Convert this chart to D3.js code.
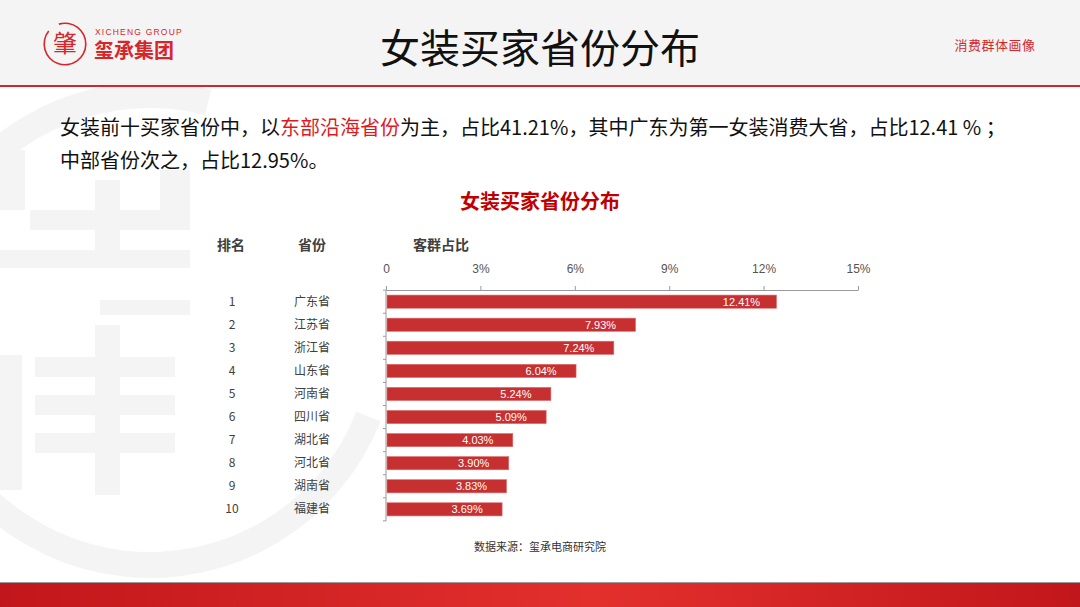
<!DOCTYPE html>
<html><head><meta charset="utf-8">
<script src="https://cdn.jsdelivr.net/npm/d3@7"></script>
<style>
html,body{margin:0;padding:0;background:#fff;}
svg{display:block;}
</style></head>
<body>
<svg id="c" width="1080" height="607"></svg>
<script>
const ranks = ["1","2","3","4","5","6","7","8","9","10"];
const provinces = ["广东省","江苏省","浙江省","山东省","河南省","四川省","湖北省","河北省","湖南省","福建省"];
const shares = [12.41, 7.93, 7.24, 6.04, 5.24, 5.09, 4.03, 3.90, 3.83, 3.69];
const tickValues = [0, 3, 6, 9, 12, 15];
const tickLabels = ["0", "3%", "6%", "9%", "12%", "15%"];

const svg = d3.select("#c");
const CJK = "'Noto Sans CJK SC','Noto Sans',sans-serif";
const LAT = "'Liberation Sans',Arial,sans-serif";

// defs
const defs = svg.append("defs");
const g1 = defs.append("linearGradient").attr("id","foot").attr("x1","0").attr("x2","1");
g1.append("stop").attr("offset","0").attr("stop-color","#c1161b");
g1.append("stop").attr("offset","0.55").attr("stop-color","#e3302d");
g1.append("stop").attr("offset","1").attr("stop-color","#c1161b");

// watermark (faint)
const wm = svg.append("g").attr("fill","#f4f4f4").attr("stroke","none");
const arcGen = d3.arc();
wm.append("path").attr("transform","translate(150,330)")
  .attr("d", arcGen({innerRadius:222, outerRadius:248, startAngle:-1.05*Math.PI/2-0.6, endAngle:0.25}));
wm.append("path").attr("transform","translate(150,330)")
  .attr("d", arcGen({innerRadius:222, outerRadius:248, startAngle:Math.PI*0.62, endAngle:Math.PI*1.45}));
[[0,355,22,135],[35,357,140,20],[35,395,140,20],[35,433,140,20],[95,325,25,170],
 [30,210,160,20],[0,250,190,18],[95,180,25,80],[160,170,30,40],[0,150,25,60],[100,300,90,15]]
 .forEach(r=>wm.append("rect").attr("x",r[0]).attr("y",r[1]).attr("width",r[2]).attr("height",r[3]));

// header
svg.append("rect").attr("x",0).attr("y",0).attr("width",1080).attr("height",85).attr("fill","#f4f4f4");
svg.append("rect").attr("x",0).attr("y",85).attr("width",1080).attr("height",2).attr("fill","#d7262b");

// logo
const logo = svg.append("g");
logo.append("path").attr("transform","translate(65,44)")
  .attr("d", arcGen({innerRadius:20, outerRadius:21.6, startAngle:-0.3, endAngle:2*Math.PI-0.9}))
  .attr("fill","#d7262b");
logo.append("text").attr("x",65).attr("y",52).attr("text-anchor","middle")
  .attr("font-family",CJK).attr("font-size",24).attr("fill","#d7262b").text("肇");
logo.append("text").attr("x",95).attr("y",35).attr("font-family",LAT).attr("font-size",8.5)
  .attr("letter-spacing",1.2).attr("fill","#d7262b").text("XICHENG GROUP");
logo.append("text").attr("x",94).attr("y",58).attr("font-family",CJK).attr("font-size",20).attr("font-weight",700)
  .attr("fill","#d7262b").text("玺承集团");

// title
svg.append("text").attr("x",540).attr("y",63).attr("text-anchor","middle")
  .attr("font-family",CJK).attr("font-size",40).attr("fill","#111").text("女装买家省份分布");
svg.append("text").attr("x",995).attr("y",50).attr("text-anchor","middle")
  .attr("font-family",CJK).attr("font-size",13).attr("fill","#d7262b").attr("letter-spacing",0.5).text("消费群体画像");

// paragraph
const p1 = svg.append("text").attr("x",60).attr("y",135).attr("font-family",CJK).attr("font-size",20).attr("fill","#111");
p1.append("tspan").text("女装前十买家省份中，以");
p1.append("tspan").attr("fill","#e0191e").text("东部沿海省份");
p1.append("tspan").text("为主，占比41.21%，其中广东为第一女装消费大省，占比12.41 % ；");
svg.append("text").attr("x",60).attr("y",168).attr("font-family",CJK).attr("font-size",20).attr("fill","#111")
  .text("中部省份次之，占比12.95%。");

// chart title
svg.append("text").attr("x",540).attr("y",209).attr("text-anchor","middle")
  .attr("font-family",CJK).attr("font-size",20).attr("font-weight",700).attr("fill","#c00000").text("女装买家省份分布");

// column headers
const hdr = [["排名",231],["省份",312],["客群占比",441]];
hdr.forEach(h=>svg.append("text").attr("x",h[1]).attr("y",250).attr("text-anchor","middle")
  .attr("font-family",CJK).attr("font-size",14).attr("font-weight",700).attr("fill","#404040").text(h[0]));

// scales
const x = d3.scaleLinear().domain([0,15]).range([386,858]);
const y = d3.scaleBand().domain(ranks).range([290,521]).paddingInner(0.43).paddingOuter(0.22);

// top axis
const xAxis = d3.axisTop(x).tickValues(tickValues).tickSize(4).tickSizeOuter(0)
  .tickFormat((d,i)=>tickLabels[i]);
const gx = svg.append("g").attr("transform","translate(0,290)").call(xAxis);
gx.select(".domain").attr("stroke","#9a9a9a");
gx.selectAll(".tick line").attr("stroke","#9a9a9a");
gx.selectAll(".tick text").attr("y",-17).attr("font-family",LAT).attr("font-size",12).attr("fill","#555");

// left axis line with band ticks
svg.append("line").attr("x1",386).attr("x2",386).attr("y1",290).attr("y2",521).attr("stroke","#9a9a9a");
const bounds = ranks.map(r=>y(r)-y.step()*y.paddingInner()/2).concat([y("10")+y.bandwidth()+y.step()*y.paddingInner()/2]);
svg.selectAll(".lt").data(bounds).enter().append("line")
  .attr("x1",383).attr("x2",386).attr("y1",d=>d).attr("y2",d=>d).attr("stroke","#9a9a9a");

// bars
svg.selectAll(".bar").data(shares).enter().append("rect")
  .attr("x",x(0)+1).attr("y",(d,i)=>y(ranks[i]))
  .attr("width",d=>x(d)-x(0)-1).attr("height",y.bandwidth())
  .attr("fill","#c63031").attr("stroke","#e06a6a").attr("stroke-width",0.6);

// value labels
svg.selectAll(".vl").data(shares).enter().append("text")
  .attr("x",d=>x(d)-35).attr("y",(d,i)=>y(ranks[i])+y.bandwidth()/2+4)
  .attr("text-anchor","middle").attr("font-family",LAT).attr("font-size",11).attr("fill","#fff")
  .text(d=>d.toFixed(2)+"%");

// rank and province labels
svg.selectAll(".rk").data(ranks).enter().append("text")
  .attr("x",232).attr("y",d=>y(d)+y.bandwidth()/2+4).attr("text-anchor","middle")
  .attr("font-family",CJK).attr("font-size",12).attr("fill","#404040").text(d=>d);
svg.selectAll(".pv").data(provinces).enter().append("text")
  .attr("x",312).attr("y",(d,i)=>y(ranks[i])+y.bandwidth()/2+4).attr("text-anchor","middle")
  .attr("font-family",CJK).attr("font-size",12).attr("fill","#404040").text(d=>d);

// source
svg.append("text").attr("x",540).attr("y",551).attr("text-anchor","middle")
  .attr("font-family",CJK).attr("font-size",11).attr("fill","#333").text("数据来源：玺承电商研究院");

// footer
svg.append("rect").attr("x",0).attr("y",582).attr("width",1080).attr("height",1).attr("fill","#9a9a9a");
svg.append("rect").attr("x",0).attr("y",583).attr("width",1080).attr("height",24).attr("fill","url(#foot)");
</script>
</body></html>
